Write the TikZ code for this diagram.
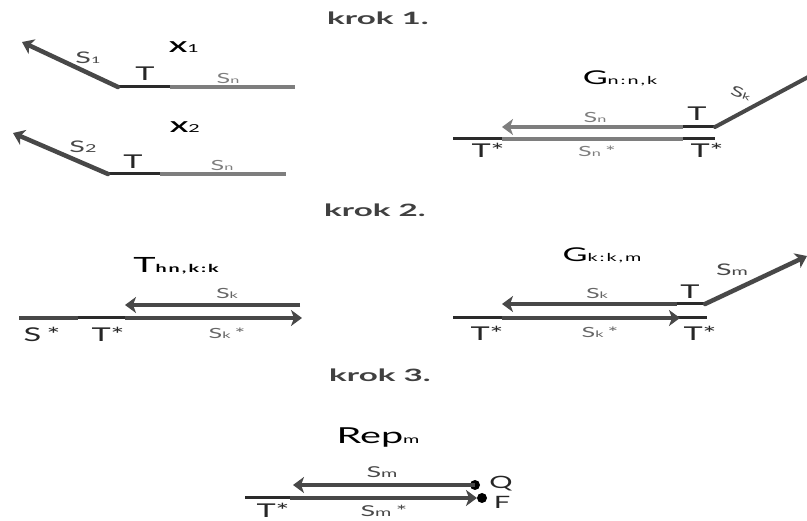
\documentclass[tikz,border=0pt]{standalone}
\usepackage{fontspec}
\setmainfont{Lato}
\usetikzlibrary{arrows.meta}
\definecolor{dk}{HTML}{484848}
\definecolor{dd}{HTML}{2A2A2A}
\definecolor{lt}{HTML}{7E7E7E}
\definecolor{tx}{HTML}{262626}
\newcommand\lsub[1]{{\fontsize{9}{9}\selectfont\addfontfeature{LetterSpace=8}#1}}
\newcommand\msub[1]{{\fontsize{11}{11}\selectfont\addfontfeature{LetterSpace=10}#1}}
\begin{document}
\begin{tikzpicture}[x=1pt,y=-1pt,
  strand/.style={line width=4.5pt, draw=dk},
  lstrand/.style={line width=4pt, draw=lt},
  tseg/.style={line width=3pt, draw=dd},
  tip/.style={-{Stealth[length=11pt,width=16pt,inset=3pt]}},
  txt/.style={inner sep=0pt, xscale=1.8, text=tx},
  head/.style={inner sep=0pt, xscale=1.95, font=\fontsize{17}{17}\selectfont\bfseries, text=black!75},
  title/.style={txt, font=\fontsize{19}{19}\selectfont, text=black},
  lab/.style={txt, xscale=0.95, font=\fontsize{19}{19}\selectfont},
  slab/.style={txt, font=\fontsize{14}{14}\selectfont, text=dk},
  glab/.style={slab, text=lt},
  rlab/.style={inner sep=0pt, font=\fontsize{14}{14}\selectfont, text=dk},
  dot/.style={fill=black}
]
\useasboundingbox (0,0) rectangle (807,521);

% ---------- krok 1 ----------
\node[head] (h1) at (378,18) {krok 1.};

% X1
\node[title, font=\fontsize{15}{15}\selectfont\bfseries] (x1) at (184,47) {X\msub{\mdseries 1}};
\coordinate (a1) at (22,42);
\coordinate (b1) at (118,87);
\coordinate (c1) at (170,87);
\coordinate (d1) at (295,87);
\draw[lstrand, line width=3.5pt] (c1) -- (d1);
\draw[tseg] (b1) -- (c1);
\draw[strand, tip, line cap=round] (b1) -- (a1);
\node[slab, font=\fontsize{16}{16}\selectfont] (s1) at (88,58) {S\lsub{1}};
\node[lab] (t1) at (145,74) {T};
\node[glab] (sn1) at (228,78) {S\lsub{n}};

% X2
\node[title, font=\fontsize{15}{15}\selectfont\bfseries] (x2) at (185,127) {X\msub{\mdseries 2}};
\coordinate (a2) at (13,133);
\coordinate (b2) at (108,174);
\coordinate (c2) at (160,174);
\coordinate (d2) at (286,174);
\draw[lstrand, line width=3.5pt] (c2) -- (d2);
\draw[tseg] (b2) -- (c2);
\draw[strand, tip, line cap=round] (b2) -- (a2);
\node[slab, font=\fontsize{16}{16}\selectfont] (s2) at (83,147) {S\msub{2}};
\node[lab] (t2) at (133,162) {T};
\node[glab] (sn2) at (222,165) {S\lsub{n}};

% G n:n,k
\node[title] (g1) at (620,78) {G\msub{n:n,k}};
\coordinate (gu1) at (502,127);
\coordinate (gu2) at (683,127);
\coordinate (gu3) at (715,127);
\coordinate (gu4) at (810,76);
\coordinate (gl0) at (453,139);
\coordinate (gl1) at (502,139);
\coordinate (gl2) at (683,139);
\coordinate (gl3) at (715,139);
\draw[lstrand, tip] (gu2) -- (gu1);
\draw[tseg] (gu2) -- (gu3);
\draw[strand, line width=4pt, line cap=round] (gu3) -- (gu4);
\draw[tseg] (gl0) -- (gl1);
\draw[lstrand] (gl1) -- (gl2);
\draw[tseg] (gl2) -- (gl3);
\node[glab] (gsn) at (595,117) {S\lsub{n}};
\node[lab] (gt) at (697,114) {T};
\node[rlab, rotate=-20, xscale=1.7] (gsk) at (741,93) {S\lsub{k}};
\node[lab] (gts1) at (488,150) {T*};
\node[glab] (gsns) at (597,151) {S\lsub{n}\,*};
\node[lab] (gts2) at (707,150) {T*};

% ---------- krok 2 ----------
\node[head] (h2) at (375,210) {krok 2.};

% T hn,k:k
\node[title, font=\fontsize{21}{21}\selectfont] (th) at (176,266) {T\msub{\bfseries hn,k:k}};
\coordinate (tu1) at (125,305);
\coordinate (tu2) at (300,305);
\coordinate (tl0) at (19,318);
\coordinate (tl1) at (78,318);
\coordinate (tl2) at (125,318);
\coordinate (tl3) at (302,318);
\draw[strand, tip] (tu2) -- (tu1);
\draw[strand, line width=3.5pt] (tl0) -- (tl1);
\draw[tseg] (tl1) -- (tl2);
\draw[strand, tip] (tl2) -- (tl3);
\node[slab, text=black!60] (tsk) at (227,293) {S\lsub{k}};
\node[lab] (tss) at (42,334) {S\,*};
\node[lab] (tts) at (108,334) {T*};
\node[slab, text=black!60] (tsks) at (227,333) {S\lsub{k}\,*};

% G k:k,m
\node[title] (g2) at (602,255) {G\msub{k:k,m}};
\coordinate (ku1) at (502,304);
\coordinate (ku2) at (677,304);
\coordinate (ku3) at (705,304);
\coordinate (ku4) at (807,256);
\coordinate (kl0) at (453,318);
\coordinate (kl1) at (502,318);
\coordinate (kl2) at (680,318);
\coordinate (kl3) at (707,318);
\draw[strand, tip] (ku2) -- (ku1);
\draw[tseg] (ku2) -- (ku3);
\draw[strand, tip, line cap=round] (ku3) -- (ku4);
\draw[tseg] (kl0) -- (kl3);
\draw[strand, tip] (kl1) -- (kl2);
\node[slab, text=black!60] (ksk) at (597,293) {S\lsub{k}};
\node[lab] (kt) at (690,292) {T};
\node[slab, font=\fontsize{16}{16}\selectfont] (ksm) at (732,270) {S\msub{m}};
\node[lab] (kts1) at (487,333) {T*};
\node[slab, text=black!60] (ksks) at (600,332) {S\lsub{k}\,*};
\node[lab] (kts2) at (700,333) {T*};

% ---------- krok 3 ----------
\node[head] (h3) at (380,375) {krok 3.};

% Rep m
\node[title, font=\fontsize{22}{22}\selectfont] (rep) at (378,438) {Rep\msub{m}};
\coordinate (ru1) at (293,485);
\coordinate (rl0) at (245,498);
\coordinate (rl1) at (290,498);
\coordinate (rl2) at (477,498);
\fill[dot] (475,485) circle (5pt) coordinate (q);
\fill[dot] (482,498) circle (5pt) coordinate (f);
\draw[strand, tip] (q) -- (ru1);
\draw[tseg] (rl0) -- (rl1);
\draw[strand, tip] (rl1) -- (rl2);
\node[slab, font=\fontsize{15}{15}\selectfont] (rsm) at (382,472) {S\msub{m}};
\node[lab, font=\fontsize{17}{17}\selectfont] (rq) at (501,484) {Q};
\node[lab, font=\fontsize{17}{17}\selectfont] (rf) at (502,502) {F};
\node[lab] (rts) at (273,510) {T*};
\node[slab, font=\fontsize{15}{15}\selectfont] (rsms) at (384,511) {S\msub{m}\,*};
\end{tikzpicture}
\end{document}
